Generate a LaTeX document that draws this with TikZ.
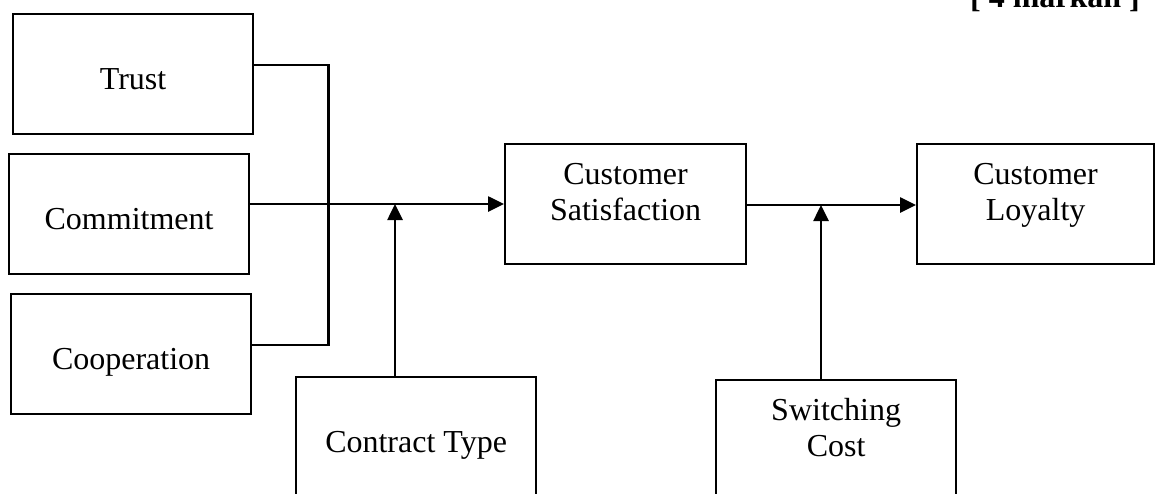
\documentclass[tikz,border=0pt]{standalone}
\usepackage{fontspec}
\setmainfont{Liberation Serif}
\usetikzlibrary{arrows.meta}

\tikzset{
  box/.style={draw, line width=2.2pt, minimum width=240pt, minimum height=120pt, inner sep=0pt, anchor=north west},
  txt/.style={font=\fontsize{32}{36}\selectfont, align=center, inner sep=0pt, anchor=north},
  link/.style={line width=2.6pt},
  arr/.style={link, -{Triangle[length=16pt,width=15pt]}}
}

\begin{document}
\begin{tikzpicture}[x=1pt,y=-1pt]

\clip (0,0) rectangle (1155,493);

% heading, cut at the top
\node[txt, font=\fontsize{32}{36}\selectfont\bfseries, anchor=base] (marks) at (1055,7) {[ 4 markah ]};

% left column
\node[box] (trust) at (12,13) {};
\node[box] (commit) at (8,153) {};
\node[box] (coop) at (10,293) {};
\node[txt] (trusttxt) at ([yshift=-55pt]trust.north) {Trust};
\node[txt] (committxt) at ([yshift=-55pt]commit.north) {Commitment};
\node[txt] (cooptxt) at ([yshift=-55pt]coop.north) {Cooperation};

% main chain
\node[box, minimum width=241pt] (cs) at (504,143) {};
\node[box, minimum width=237pt] (cl) at (916,143) {};
\node[txt] (cstxt) at ([yshift=-20pt]cs.north) {Customer\\Satisfaction};
\node[txt] (cltxt) at ([yshift=-20pt]cl.north) {Customer\\Loyalty};

% moderators
\node[box, minimum height=140pt] (contract) at (295,376) {};
\node[box, minimum height=140pt] (switch) at (715,379) {};
\node[txt] (contracttxt) at ([yshift=-55pt]contract.north) {Contract Type};
\node[txt] (switchtxt) at ([yshift=-19pt]switch.north) {Switching\\Cost};

\coordinate (m1) at (395,204);
\coordinate (m2) at (821,205);

% connectors
\draw[link] ([yshift=9pt]trust.east) -- ++(74,0) |- ([yshift=9pt]coop.east);
\draw[arr] (commit.east |- m1) -- (cs.west |- m1);
\draw[arr] (contract.north -| m1) -- (m1);
\draw[arr] (cs.east |- m2) -- (cl.west |- m2);
\draw[arr] (switch.north -| m2) -- (m2);

\end{tikzpicture}
\end{document}
